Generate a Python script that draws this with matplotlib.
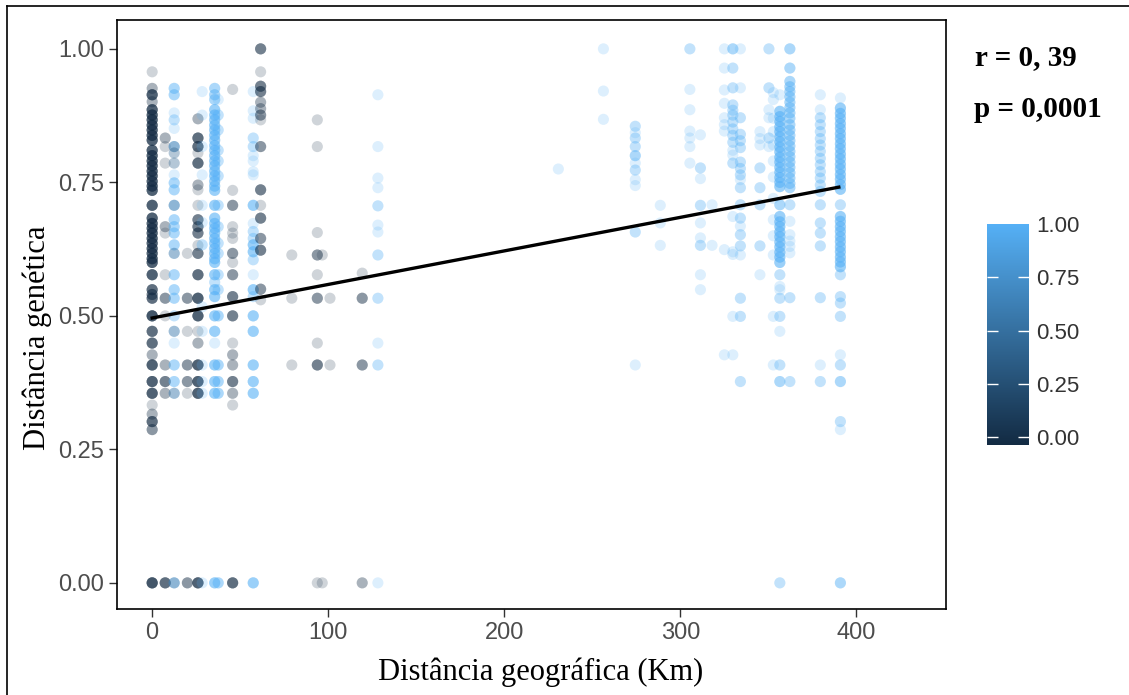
import numpy as np
import matplotlib
matplotlib.use("Agg")
import matplotlib.pyplot as plt
from matplotlib.colors import LinearSegmentedColormap
from matplotlib.lines import Line2D

# geographic distance (km) of every column of pairs, colour value of the column,
# genetic distances found in it and how many pairs share each value

# --- near pairs (0 - 130 km)
c000_y = [0.957, 0.926, 0.914, 0.901, 0.886, 0.876, 0.867, 0.857, 0.848, 0.838, 0.829, 0.81, 0.8, 0.79,
          0.781, 0.771, 0.762, 0.752, 0.743, 0.735, 0.707, 0.683, 0.673, 0.664, 0.655, 0.645, 0.636, 0.626,
          0.617, 0.607, 0.6, 0.577, 0.549, 0.54, 0.533, 0.5, 0.471, 0.449, 0.427, 0.408, 0.377, 0.355,
          0.333, 0.316, 0.302, 0.287, 0.0]
c000_n = [1, 2, 6, 2, 6, 6, 6, 6, 6, 6, 6, 6, 6, 6, 6, 6, 6, 6, 6, 6, 6, 6, 6, 6, 6, 6, 6, 6, 6, 6, 6, 6,
          5, 4, 5, 7, 5, 5, 2, 6, 6, 6, 1, 2, 5, 3, 7]

c007_y = [0.833, 0.817, 0.786, 0.667, 0.655, 0.577, 0.533, 0.5, 0.408, 0.377, 0.355, 0.0]
c007_n = [2, 1, 1, 2, 1, 1, 3, 1, 2, 4, 2, 5]

c012_y = [0.926, 0.914, 0.88, 0.867, 0.851, 0.817, 0.805, 0.786, 0.764, 0.749, 0.736, 0.707, 0.68, 0.667,
          0.655, 0.633, 0.617, 0.577, 0.549, 0.533, 0.5, 0.471, 0.449, 0.408, 0.377, 0.355, 0.0]
c012_n = [3, 3, 1, 2, 1, 3, 1, 1, 1, 3, 3, 3, 3, 3, 3, 3, 2, 3, 3, 3, 2, 2, 1, 3, 3, 2, 3]
c012d_y = [0.817, 0.805, 0.786, 0.707, 0.617, 0.471, 0.355, 0.0]
c012d_n = [1, 1, 1, 1, 1, 1, 1, 1]

c020_y = [0.617, 0.533, 0.471, 0.408, 0.377, 0.355, 0.0]
c020_n = [1, 3, 1, 3, 3, 1, 3]

c026_y = [0.869, 0.833, 0.817, 0.805, 0.786, 0.745, 0.736, 0.707, 0.68, 0.667, 0.655, 0.632, 0.617, 0.577,
          0.533, 0.5, 0.471, 0.449, 0.408, 0.377, 0.355, 0.0]
c026_n = [2, 5, 5, 1, 5, 2, 1, 1, 4, 4, 4, 1, 4, 5, 6, 6, 1, 2, 6, 6, 6, 6]

c028_y = [0.92, 0.876, 0.817, 0.764, 0.707, 0.675, 0.633, 0.517, 0.471, 0.408, 0.377, 0.355, 0.0]
c028_n = [1, 1, 1, 1, 1, 1, 2, 1, 1, 1, 1, 1, 1]

c035_y = [0.926, 0.914, 0.905, 0.886, 0.876, 0.867, 0.857, 0.848, 0.838, 0.829, 0.819, 0.81, 0.8, 0.79,
          0.781, 0.771, 0.762, 0.752, 0.743, 0.735, 0.707, 0.683, 0.673, 0.664, 0.655, 0.645, 0.636, 0.626,
          0.617, 0.607, 0.6, 0.577, 0.563, 0.549, 0.536, 0.5, 0.471, 0.449, 0.408, 0.377, 0.355, 0.0]
c035_n = [3, 3, 3, 4, 4, 4, 4, 4, 4, 4, 4, 4, 4, 4, 4, 4, 4, 4, 4, 4, 4, 4, 4, 4, 4, 4, 4, 4, 4, 4, 4, 4,
          2, 4, 4, 4, 4, 1, 4, 4, 4, 4]

c037_y = [0.905, 0.876, 0.848, 0.81, 0.79, 0.762, 0.707, 0.667, 0.636, 0.617, 0.577, 0.549, 0.5, 0.408,
          0.377, 0.355, 0.0]
c037_n = [1, 2, 2, 2, 2, 2, 2, 2, 2, 2, 2, 2, 3, 3, 3, 3, 3]

c046_y = [0.924, 0.735, 0.707, 0.667, 0.655, 0.645, 0.617, 0.6, 0.577, 0.536, 0.5, 0.449, 0.427, 0.408,
          0.377, 0.355, 0.333, 0.0]
c046_n = [1, 1, 3, 1, 1, 1, 3, 1, 3, 4, 4, 1, 2, 2, 4, 2, 1, 5]

c057_y = [0.92, 0.884, 0.87, 0.833, 0.817, 0.8, 0.79, 0.77, 0.764, 0.707, 0.673, 0.658, 0.645, 0.633,
          0.62, 0.605, 0.577, 0.549, 0.536, 0.5, 0.471, 0.408, 0.377, 0.355, 0.0]
c057_n = [1, 1, 1, 2, 2, 1, 1, 1, 1, 4, 1, 2, 2, 4, 4, 2, 1, 4, 2, 4, 4, 4, 4, 4, 4]

c062_y = [1.0, 0.957, 0.93, 0.92, 0.9, 0.888, 0.876, 0.867, 0.817, 0.736, 0.707, 0.683, 0.645, 0.623,
          0.55, 0.53]
c062_n = [4, 1, 4, 4, 2, 2, 3, 1, 3, 4, 1, 4, 3, 4, 3, 1]

c079_y = [0.614, 0.533, 0.408]
c079_n = [1, 1, 1]
c094_y = [0.867, 0.817, 0.656, 0.614, 0.577, 0.533, 0.449, 0.408, 0.0]
c094_n = [1, 1, 1, 3, 1, 3, 1, 4, 1]
c097_y = [0.614, 0.0]
c097_n = [1, 1]
c101_y = [0.533, 0.408]
c101_n = [1, 1]
c119_y = [0.58, 0.533, 0.408, 0.0]
c119_n = [1, 3, 3, 2]
c128_y = [0.914, 0.817, 0.758, 0.74, 0.706, 0.67, 0.657, 0.614, 0.533, 0.449, 0.408, 0.0]
c128_n = [1, 1, 1, 1, 2, 1, 1, 2, 2, 1, 2, 1]

# --- far pairs (230 - 392 km)
c231_y = [0.775]
c231_n = [1]
c256_y = [1.0, 0.921, 0.868]
c256_n = [1, 1, 1]
c274_y = [0.855, 0.843, 0.833, 0.817, 0.8, 0.786, 0.773, 0.755, 0.744, 0.657, 0.408]
c274_n = [2, 1, 2, 2, 3, 1, 2, 1, 1, 2, 1]
c289_y = [0.707, 0.674, 0.632]
c289_n = [1, 1, 1]
c305_y = [1.0, 0.924, 0.886, 0.846, 0.833, 0.817, 0.786]
c305_n = [2, 1, 1, 1, 1, 1, 1]
c311_y = [0.839, 0.777, 0.757, 0.707, 0.674, 0.646, 0.632, 0.577, 0.549]
c311_n = [1, 2, 1, 2, 1, 1, 2, 1, 1]
c318_y = [0.708, 0.632]
c318_n = [1, 1]
c325_y = [1.0, 0.964, 0.923, 0.898, 0.871, 0.858, 0.846, 0.624, 0.427]
c325_n = [1, 1, 1, 1, 1, 1, 1, 1, 1]
c330_y = [1.0, 0.964, 0.927, 0.895, 0.885, 0.876, 0.863, 0.85, 0.838, 0.825, 0.81, 0.801, 0.786, 0.686,
          0.62, 0.615, 0.499, 0.427]
c330_n = [3, 2, 2, 2, 2, 2, 2, 2, 2, 2, 1, 1, 2, 1, 1, 1, 1, 1]
c334_y = [1.0, 0.927, 0.871, 0.84, 0.828, 0.815, 0.788, 0.776, 0.764, 0.755, 0.74, 0.708, 0.683, 0.668,
          0.652, 0.631, 0.614, 0.533, 0.499, 0.377]
c334_n = [1, 1, 2, 2, 2, 2, 2, 2, 2, 1, 2, 2, 2, 1, 2, 2, 1, 2, 2, 2]
c345_y = [0.845, 0.832, 0.82, 0.777, 0.74, 0.708, 0.631, 0.577]
c345_n = [1, 1, 1, 2, 2, 2, 2, 1]
c350_y = [1.0, 0.927, 0.886, 0.871, 0.833, 0.817]
c350_n = [2, 2, 1, 1, 2, 1]
c353_y = [0.918, 0.905, 0.87, 0.845, 0.82, 0.79, 0.76, 0.72, 0.68, 0.65, 0.614, 0.499, 0.408]
c353_n = [1, 1, 1, 1, 1, 1, 1, 1, 1, 1, 1, 1, 1]
c357_y = [0.914, 0.883, 0.873, 0.864, 0.854, 0.845, 0.835, 0.826, 0.816, 0.807, 0.797, 0.788, 0.778,
          0.769, 0.759, 0.75, 0.742, 0.708, 0.686, 0.676, 0.667, 0.657, 0.648, 0.638, 0.629, 0.619, 0.61,
          0.6, 0.577, 0.555, 0.549, 0.533, 0.499, 0.471, 0.408, 0.377, 0.0]
c357_n = [1, 4, 4, 4, 4, 4, 4, 4, 4, 4, 4, 4, 4, 4, 4, 4, 4, 3, 4, 4, 4, 4, 4, 4, 4, 4, 4, 4, 2, 1, 1,
          2, 2, 1, 2, 3, 2]
c362_y = [1.0, 0.964, 0.939, 0.929, 0.92, 0.91, 0.9, 0.89, 0.88, 0.87, 0.858, 0.848, 0.838, 0.828, 0.818,
          0.808, 0.798, 0.788, 0.778, 0.768, 0.758, 0.748, 0.74, 0.708, 0.677, 0.652, 0.64, 0.63, 0.618,
          0.534, 0.377]
c362_n = [3, 3, 3, 3, 3, 3, 3, 3, 3, 3, 3, 3, 3, 3, 3, 3, 3, 3, 3, 3, 3, 3, 3, 2, 1, 1, 1, 1, 1, 2, 2]
c380_y = [0.914, 0.886, 0.871, 0.858, 0.845, 0.832, 0.82, 0.808, 0.795, 0.783, 0.77, 0.758, 0.745, 0.733,
          0.708, 0.674, 0.655, 0.631, 0.534, 0.408, 0.377]
c380_n = [1, 1, 2, 2, 2, 2, 2, 2, 2, 2, 2, 2, 2, 2, 2, 2, 2, 2, 2, 1, 2]
c391_y = [0.908, 0.889, 0.879, 0.87, 0.86, 0.851, 0.841, 0.832, 0.822, 0.813, 0.803, 0.794, 0.784, 0.775,
          0.765, 0.756, 0.746, 0.737, 0.708, 0.686, 0.677, 0.667, 0.658, 0.648, 0.639, 0.629, 0.62, 0.61,
          0.601, 0.592, 0.577, 0.536, 0.524, 0.499, 0.427, 0.408, 0.377, 0.302, 0.287, 0.0]
c391_n = [1, 4, 4, 4, 4, 4, 4, 4, 4, 4, 4, 4, 4, 4, 4, 4, 4, 4, 2, 4, 4, 4, 4, 4, 4, 4, 4, 4, 4, 4, 2,
          2, 2, 2, 1, 2, 3, 2, 1, 3]

# (km, colour value, genetic distances, counts)
columns = [
    (0, 0.0, c000_y, c000_n), (7.4, 0.0, c007_y, c007_n), (12.5, 1.0, c012_y, c012_n),
    (12.5, 0.0, c012d_y, c012d_n), (20, 0.0, c020_y, c020_n), (26, 0.0, c026_y, c026_n),
    (28.4, 1.0, c028_y, c028_n), (35.5, 1.0, c035_y, c035_n), (37.5, 1.0, c037_y, c037_n),
    (45.7, 0.0, c046_y, c046_n), (57.4, 1.0, c057_y, c057_n), (61.6, 0.0, c062_y, c062_n),
    (79.3, 0.0, c079_y, c079_n), (93.8, 0.0, c094_y, c094_n), (96.6, 0.0, c097_y, c097_n),
    (101, 0.0, c101_y, c101_n), (119.3, 0.0, c119_y, c119_n), (128.2, 1.0, c128_y, c128_n),
    (230.7, 1.0, c231_y, c231_n), (256.3, 1.0, c256_y, c256_n), (274.4, 1.0, c274_y, c274_n),
    (288.6, 1.0, c289_y, c289_n), (305.4, 1.0, c305_y, c305_n), (311.4, 1.0, c311_y, c311_n),
    (318, 1.0, c318_y, c318_n), (325, 1.0, c325_y, c325_n), (329.8, 1.0, c330_y, c330_n),
    (334.1, 1.0, c334_y, c334_n), (345.2, 1.0, c345_y, c345_n), (350.3, 1.0, c350_y, c350_n),
    (352.8, 1.0, c353_y, c353_n), (356.5, 1.0, c357_y, c357_n), (362.2, 1.0, c362_y, c362_n),
    (379.5, 1.0, c380_y, c380_n), (390.9, 1.0, c391_y, c391_n),
]

# fitted line (linear regression) end points
fit_km = [0, 390]
fit_gd = [0.496, 0.741]

stat_r = "r = 0, 39"
stat_p = "p = 0,0001"
x_ticks = [0, 100, 200, 300, 400]
y_ticks = [0.0, 0.25, 0.5, 0.75, 1.0]
cbar_ticks = [0.0, 0.25, 0.5, 0.75, 1.0]

# expand the columns into points
xs, ys, cs = [], [], []
for km, tone, gy, gn in columns:
    vals = np.repeat(gy, gn)
    xs.extend([km] * len(vals))
    ys.extend(vals)
    cs.extend([tone] * len(vals))

cmap = LinearSegmentedColormap.from_list("gg", ["#132B43", "#56B1F7"])

fig = plt.figure(figsize=(11.29, 6.95), dpi=100)
ax = fig.add_axes([0.1036, 0.1237, 0.7345, 0.8475])

ax.scatter(xs, ys, c=cs, cmap=cmap, vmin=0, vmax=1, s=64, alpha=0.2, edgecolors="none", zorder=2)
ax.plot(fit_km, fit_gd, color="black", lw=2.4, zorder=3)

ax.set_xlim(-20, 451)
ax.set_ylim(-0.049, 1.054)
ax.set_xticks(x_ticks)
ax.set_xticklabels([str(t) for t in x_ticks])
ax.set_yticks(y_ticks)
ax.set_yticklabels(["%.2f" % t for t in y_ticks])
for s in ax.spines.values():
    s.set_linewidth(1.2)
    s.set_color("black")
ax.tick_params(length=6, width=1, color="#333333", labelcolor="#4d4d4d", labelsize=17,
               labelfontfamily="Liberation Sans")
ax.set_xlabel("Distância geográfica (Km)", family="Liberation Serif", fontsize=22)
ax.set_ylabel("Distância genética", family="Liberation Serif", fontsize=22)
ax.xaxis.set_label_coords(0.511, -0.083)
ax.yaxis.set_label_coords(-0.078, 0.46)

fig.text(0.864, 0.917, stat_r, family="Liberation Serif", weight="bold", fontsize=21, va="center")
fig.text(0.863, 0.843, stat_p, family="Liberation Serif", weight="bold", fontsize=21, va="center")

# colour bar, drawn as a gradient strip like ggplot's guide
cax = fig.add_axes([0.8742, 0.3597, 0.0372, 0.318])
grad = np.linspace(0, 1, 256)[:, None]
cax.imshow(grad, cmap=cmap, aspect="auto", origin="lower", extent=[0, 1, -0.0375, 1.0])
cax.set_xlim(0, 1)
cax.set_ylim(-0.0375, 1.0)
cax.set_xticks([])
cax.set_yticks(cbar_ticks)
cax.set_yticklabels(["%.2f" % t for t in cbar_ticks])
cax.yaxis.tick_right()
for s in cax.spines.values():
    s.set_visible(False)
cax.tick_params(axis="y", direction="in", left=True, right=True, color="white", length=8, width=1,
                labelcolor="#333333", labelsize=16, pad=5, labelfontfamily="Liberation Sans")
top_tick = cax.yaxis.get_major_ticks()[-1]
top_tick.tick1line.set_visible(False)
top_tick.tick2line.set_visible(False)

# frame around the picture (left and top only, as in the export)
fig.add_artist(Line2D([7 / 1129, 7 / 1129], [0, 1 - 6 / 695], color="black", lw=1.2))
fig.add_artist(Line2D([7 / 1129, 1], [1 - 6 / 695, 1 - 6 / 695], color="black", lw=1.2))

fig.savefig("out.png", dpi=100)
